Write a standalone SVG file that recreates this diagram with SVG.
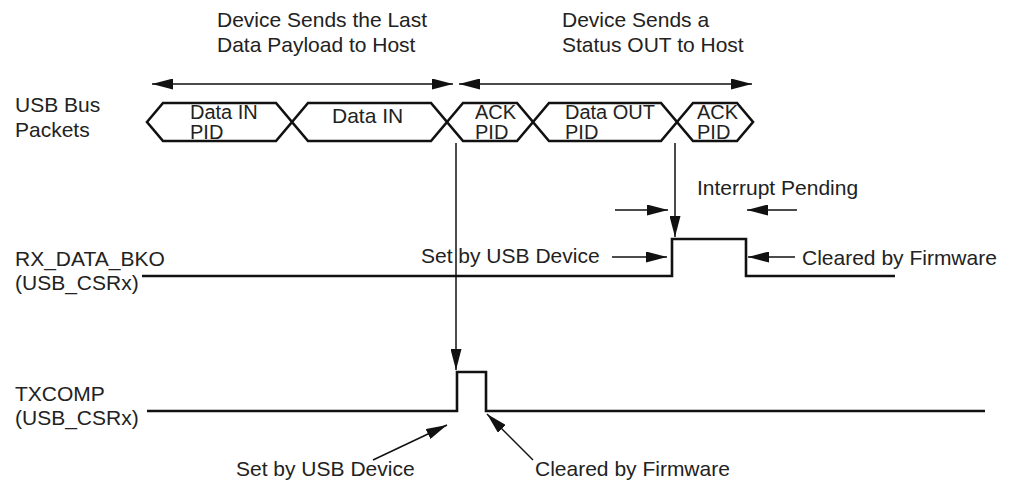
<svg xmlns="http://www.w3.org/2000/svg" width="1012" height="483" viewBox="0 0 1012 483">
<style>
text { font-family: "Liberation Sans", Arial, sans-serif; font-size: 21px; fill: #222; }
.pt { font-size: 20px; }
.pkt { fill: none; stroke: #111; stroke-width: 2.6; stroke-linejoin: miter; }
.sig { fill: none; stroke: #111; stroke-width: 2.6; }
.arr { fill: none; stroke: #111; stroke-width: 1.5; }
</style>
<defs>
<marker id="ah" markerUnits="userSpaceOnUse" markerWidth="21" markerHeight="11" refX="21" refY="5.5" orient="auto-start-reverse">
<path d="M0,0 L21,5.5 L0,11 z" fill="#111"/>
</marker>
</defs>

<g id="titles">
<text x="217" y="27">Device Sends the Last</text>
<text x="217" y="52">Data Payload to Host</text>
<text x="562" y="27">Device Sends a</text>
<text x="562" y="52">Status OUT to Host</text>
</g>

<g id="row-labels">
<text x="15" y="112">USB Bus</text>
<text x="15" y="137">Packets</text>
<text x="15" y="266">RX_DATA_BKO</text>
<text x="15" y="290">(USB_CSRx)</text>
<text x="15" y="401">TXCOMP</text>
<text x="15" y="425">(USB_CSRx)</text>
</g>

<g id="packet-data-in-pid">
<polygon class="pkt" points="147,122 163,103 276,103 292,122 276,141 163,141"/>
<text class="pt" x="190" y="119">Data IN</text>
<text class="pt" x="190" y="139">PID</text>
</g>
<g id="packet-data-in">
<polygon class="pkt" points="292,122 308,103 431,103 447,122 431,141 308,141"/>
<text x="332" y="123">Data IN</text>
</g>
<g id="packet-ack-pid-1">
<polygon class="pkt" points="447,122 463,103 517,103 533,122 517,141 463,141"/>
<text class="pt" x="475" y="119">ACK</text>
<text class="pt" x="475" y="139">PID</text>
</g>
<g id="packet-data-out-pid">
<polygon class="pkt" points="533,122 549,103 661,103 677,122 661,141 549,141"/>
<text class="pt" x="565" y="119">Data OUT</text>
<text class="pt" x="565" y="139">PID</text>
</g>
<g id="packet-ack-pid-2">
<polygon class="pkt" points="677,122 693,103 737,103 753,122 737,141 693,141"/>
<text class="pt" x="697" y="119">ACK</text>
<text class="pt" x="697" y="139">PID</text>
</g>

<g id="signal-rx-data-bko">
<path class="sig" d="M142,276 H672 V239 H746 V276 H895"/>
</g>
<g id="signal-txcomp">
<path class="sig" d="M147,411 H457 V372 H486 V411 H985"/>
</g>

<g id="annotations">
<text x="697" y="195">Interrupt Pending</text>
<text x="421" y="263">Set by USB Device</text>
<text x="802" y="265">Cleared by Firmware</text>
<text x="236" y="476">Set by USB Device</text>
<text x="535" y="476">Cleared by Firmware</text>
</g>

<g id="connectors">
<line class="arr" x1="152" y1="84" x2="453" y2="84" marker-start="url(#ah)" marker-end="url(#ah)"/>
<line class="arr" x1="459" y1="84" x2="752" y2="84" marker-start="url(#ah)" marker-end="url(#ah)"/>
<line class="arr" x1="456" y1="143" x2="456" y2="370" marker-end="url(#ah)"/>
<line class="arr" x1="675" y1="143" x2="675" y2="237" marker-end="url(#ah)"/>
<line class="arr" x1="615" y1="210" x2="668" y2="210" marker-end="url(#ah)"/>
<line class="arr" x1="797" y1="210" x2="747" y2="210" marker-end="url(#ah)"/>
<line class="arr" x1="612" y1="257" x2="667" y2="257" marker-end="url(#ah)"/>
<line class="arr" x1="795" y1="257" x2="748" y2="257" marker-end="url(#ah)"/>
<line class="arr" x1="373" y1="460" x2="447" y2="425" marker-end="url(#ah)"/>
<line class="arr" x1="533" y1="460" x2="487" y2="414" marker-end="url(#ah)"/>
</g>
</svg>
